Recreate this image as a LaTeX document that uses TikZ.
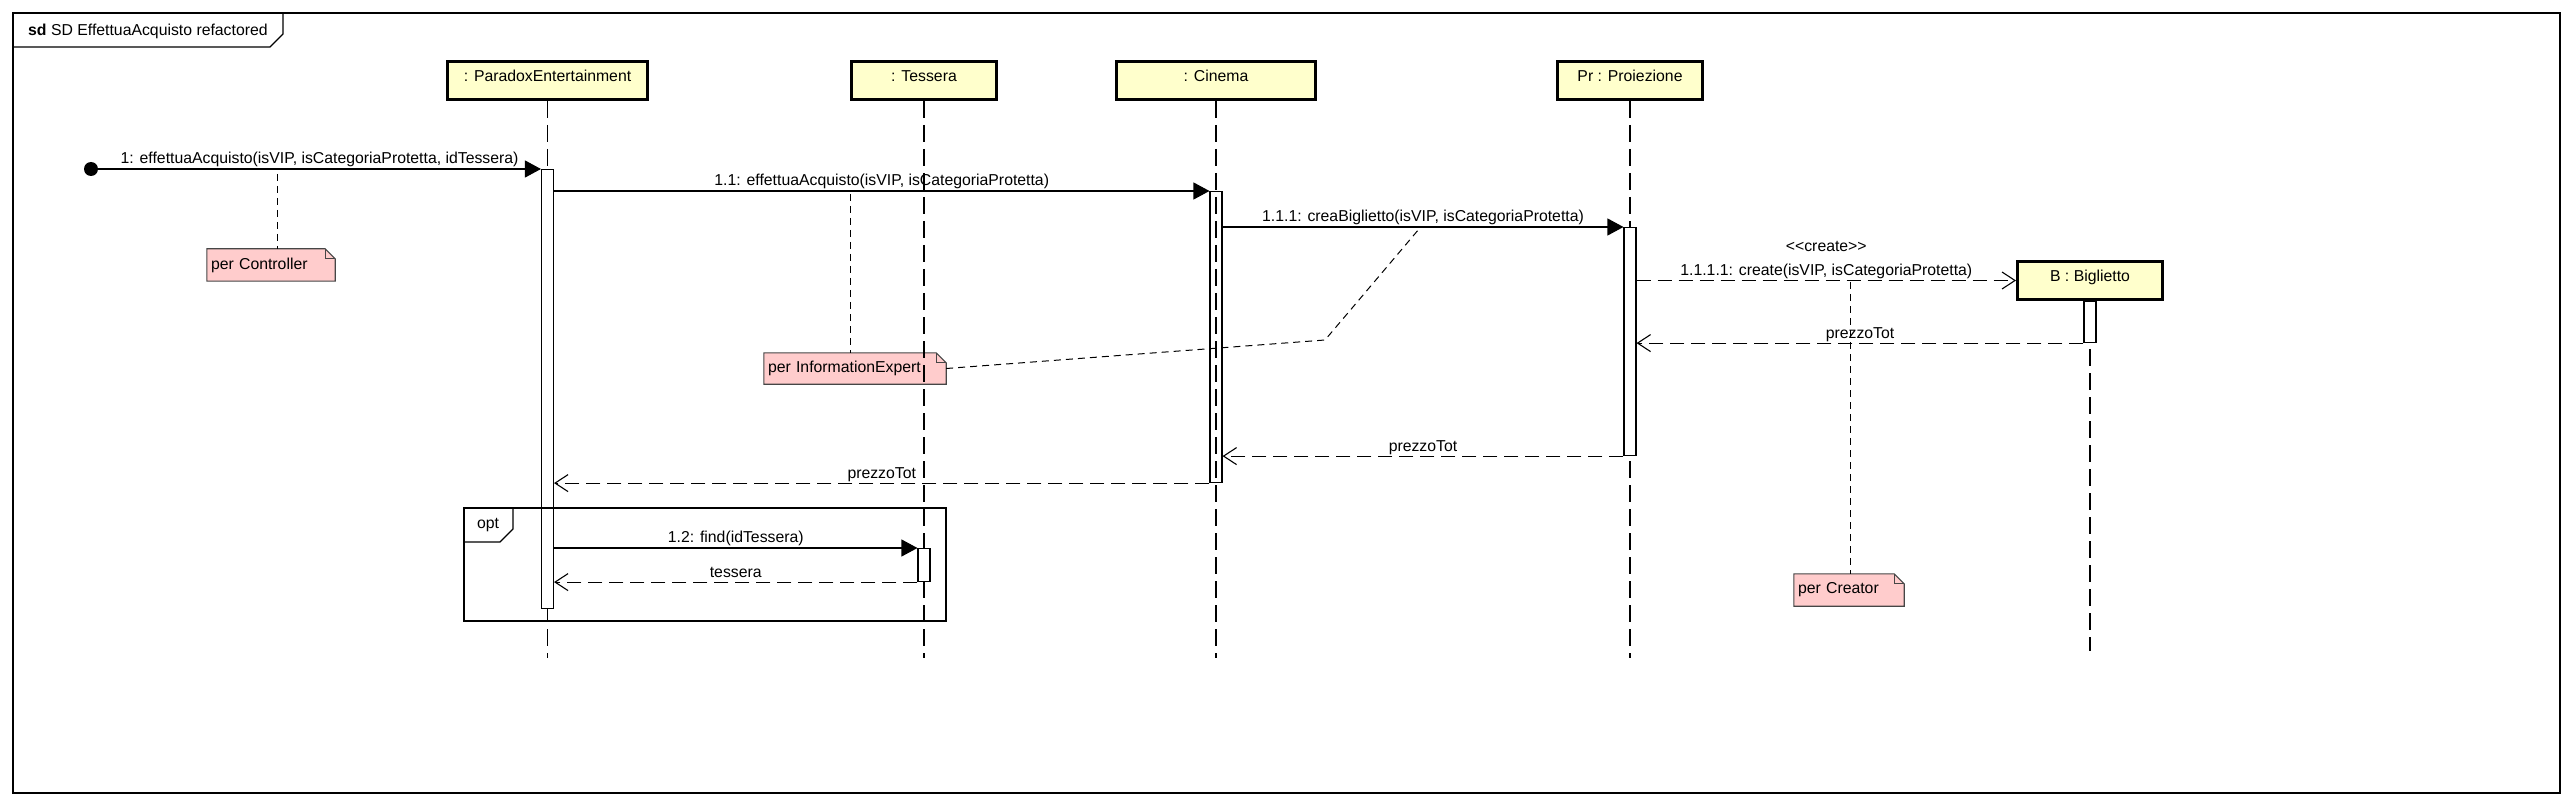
\documentclass[tikz,border=0pt]{standalone}
\usepackage{fontspec}
\setmainfont{Liberation Sans}
\usepackage{tikz}
\usetikzlibrary{arrows.meta,backgrounds}
\definecolor{headfill}{RGB}{255,255,204}
\definecolor{notefill}{RGB}{255,204,204}
\definecolor{noteline}{RGB}{70,70,70}
% folded-corner outline behind a note node
\newcommand{\umlnote}[1]{%
  \filldraw[draw=noteline, fill=notefill, line width=1.1pt]
    (#1.south west) -- (#1.north west) -- ([xshift=-10pt]#1.north east)
    -- ([yshift=-10pt]#1.north east) -- (#1.south east) -- cycle;
  \draw[noteline, line width=1.1pt]
    ([xshift=-10pt]#1.north east) |- ([yshift=-10pt]#1.north east);}

\begin{document}
\begin{tikzpicture}[x=1pt,y=-1pt,
    font=\fontsize{15.8}{18}\selectfont,
    head/.style={draw, line width=3pt, fill=headfill, minimum height=38pt,
      inner sep=0pt, text height=11pt, text depth=8pt},
    bar/.style={draw, line width=1.1pt, fill=white, minimum width=12pt,
      inner sep=0pt, anchor=north},
    lifeline/.style={line width=1.1pt, dash pattern=on 17pt off 7pt},
    sync/.style={line width=1.1pt, -{Triangle[length=16pt,width=17pt]}},
    reply/.style={line width=1.1pt, dash pattern=on 14pt off 7pt,
      -{Straight Barb[length=13pt,width=17pt,line width=1.1pt]}},
    msg/.style={above, inner sep=1.5pt, text depth=3pt},
    note/.style={inner xsep=4pt, inner ysep=0pt, minimum height=32pt, align=left},
    notelink/.style={line width=1pt, dash pattern=on 7pt off 5pt},
  ]
  \useasboundingbox (0,0) rectangle (2572,810);

  % frame
  \draw[line width=1.1pt] (13,13) rectangle (2560,793);
  \draw[line width=1.1pt] (13,47) -- (270,47) -- (283,34) -- (283,13);
  \node[anchor=west, inner sep=0pt] (title) at (28,31) {\textbf{sd} SD EffettuaAcquisto refactored};

  % participants
  \node[head, minimum width=200pt] (pe) at (547.5,80.5) {: ParadoxEntertainment};
  \node[head, minimum width=145pt] (tes) at (924,80.5) {: Tessera};
  \node[head, minimum width=199pt] (cin) at (1216,80.5) {: Cinema};
  \node[head, minimum width=145pt] (pr) at (1630,80.5) {Pr : Proiezione};
  \node[head, minimum width=145pt] (big) at (2090,280.5) {B : Biglietto};

  % lifelines
  \coordinate (lifeend) at (0,658);
  \coordinate (bigend) at (0,651);
  \foreach \h in {pe,tes,cin,pr}
    \draw[lifeline] (\h.south) -- (\h.south |- lifeend);
  \draw[lifeline] (big.south) -- (big.south |- bigend);

  % activations
  \node[bar, minimum height=439pt] (pe bar) at (547.5,169) {};
  \node[bar, fill=none, minimum height=291pt] (cin bar) at (1216,191) {};
  \node[bar, minimum height=228pt] (pr bar) at (1630,227) {};
  \node[bar, minimum height=41pt] (big bar) at (2090,301) {};
  \node[bar, minimum height=33pt] (tes bar) at (924,548) {};

  % messages
  \node[fill, circle, inner sep=0pt, minimum size=14pt] (found) at (91,169) {};
  \draw[sync] (found) -- node[msg] {1: effettuaAcquisto(isVIP, isCategoriaProtetta, idTessera)} (pe bar.north west);
  \draw[sync] (pe bar.north east |- cin bar.north west) -- node[msg] {1.1: effettuaAcquisto(isVIP, isCategoriaProtetta)} (cin bar.north west);
  \draw[sync] (cin bar.east |- pr bar.north west) -- node[msg] {1.1.1: creaBiglietto(isVIP, isCategoriaProtetta)} (pr bar.north west);
  \draw[reply] (pr bar.east |- big.west) -- node[msg, align=center, font=\fontsize{15.8}{24}\selectfont] {<{}<create>{}>\\1.1.1.1: create(isVIP, isCategoriaProtetta)} (big.west);
  \draw[reply] (big bar.south west) -- node[msg] {prezzoTot} (pr bar.east |- big bar.south west);
  \draw[reply] (pr bar.south west) -- node[msg] {prezzoTot} (cin bar.east |- pr bar.south west);
  \draw[reply] (cin bar.south west) -- node[msg] {prezzoTot} (pe bar.east |- cin bar.south west);

  % opt fragment
  \draw[line width=1.1pt] (464,508) rectangle (946,621);
  \draw[line width=1.1pt] (464,542) -- (500,542) -- (513,529) -- (513,508);
  \node (opt) at (488,525) {opt};
  \draw[sync] (pe bar.east |- tes bar.north west) -- node[msg] {1.2: find(idTessera)} (tes bar.north west);
  \draw[reply] (tes bar.south west) -- node[msg] {tessera} (pe bar.east |- tes bar.south west);

  % notes
  \node[note, text width=120pt] (ctrl) at (271,265) {per Controller};
  \node[note, text width=174pt, minimum height=31pt] (ie) at (855,368.5) {per InformationExpert};
  \node[note, text width=102pt] (cre) at (1849,590) {per Creator};
  \begin{scope}[on background layer]
    \umlnote{ctrl}
    \umlnote{ie}
    \umlnote{cre}
  \end{scope}
  \coordinate (ctrl link) at (277,174);
  \coordinate (ie link) at (850,194);
  \coordinate (ie bend) at (1325,340);
  \coordinate (ie tip) at (1419,229);
  \coordinate (cre link) at (1850,282);
  \draw[notelink] (ctrl link) -- (ctrl link |- ctrl.north);
  \draw[notelink] (ie link) -- (ie link |- ie.north);
  \draw[notelink] (ie.east) -- (ie bend) -- (ie tip);
  \draw[notelink] (cre link) -- (cre link |- cre.north);
\end{tikzpicture}
\end{document}
